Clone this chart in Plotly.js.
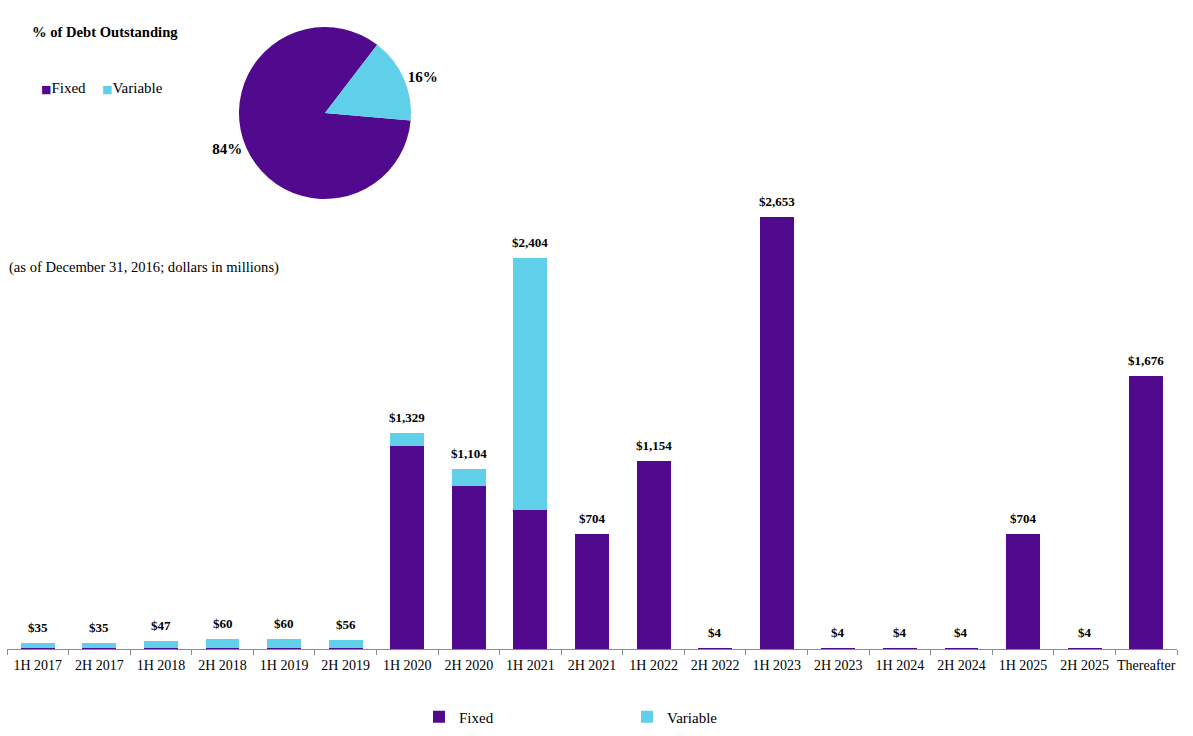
<!DOCTYPE html>
<html>
<head>
<meta charset="utf-8">
<script src="https://cdn.plot.ly/plotly-3.0.1.min.js"></script>
<style>html,body{margin:0;padding:0;background:#fff;}#chart{width:1193px;height:736px;}</style>
</head>
<body>
<div id="chart"></div>
<script>
// ---- data ----
const periods = ['1H 2017','2H 2017','1H 2018','2H 2018','1H 2019','2H 2019','1H 2020','2H 2020','1H 2021','2H 2021','1H 2022','2H 2022','1H 2023','2H 2023','1H 2024','2H 2024','1H 2025','2H 2025','Thereafter'];
const fixedDebt =    [8, 8, 8, 8, 8, 8, 1250, 1000, 854, 704, 1154, 4, 2653, 4, 4, 4, 704, 4, 1676];
const variableDebt = [27, 27, 39, 52, 52, 48, 79, 104, 1550, 0, 0, 0, 0, 0, 0, 0, 0, 0, 0];
const pieLabels = ['Fixed', 'Variable'];
const pieShares = [84, 16];

const PURPLE = '#510A8E';
const CYAN = '#5FCFEA';
const SERIF = '"Liberation Serif", "Times New Roman", serif';

const totals = fixedDebt.map((v, i) => v + variableDebt[i]);

const traces = [
  {type: 'bar', name: 'Fixed', x: periods, y: fixedDebt, marker: {color: PURPLE}, legend: 'legend', hoverinfo: 'x+y+name'},
  {type: 'bar', name: 'Variable', x: periods, y: variableDebt, marker: {color: CYAN}, legend: 'legend', hoverinfo: 'x+y+name'},
  {type: 'pie', labels: pieLabels, values: pieShares, sort: false, direction: 'counterclockwise', rotation: 95,
   marker: {colors: [PURPLE, CYAN]}, textinfo: 'percent', textposition: 'outside',
   texttemplate: '%{percent:.0%}',
   textfont: {family: SERIF, size: 15, color: '#000', weight: 'bold'},
   domain: {x: [0.2003, 0.3445], y: [0.7296, 0.9633]}, legend: 'legend2', automargin: false}
];

const annotations = periods.map((p, i) => ({
  x: p, y: totals[i], xref: 'x', yref: 'y', yanchor: 'bottom', yshift: 6,
  text: '$' + totals[i].toLocaleString('en-US'), showarrow: false,
  font: {family: SERIF, size: 13, color: '#000', weight: 'bold'}
}));
annotations.push({
  xref: 'paper', yref: 'paper', x: 30/1193, y: 1 - 32/736, xanchor: 'left', yanchor: 'middle',
  text: '<b>% of Debt Outstanding</b>', showarrow: false, font: {family: SERIF, size: 14.6, color: '#000'}
});
annotations.push({
  xref: 'paper', yref: 'paper', x: 7/1193, y: 1 - 268/736, xanchor: 'left', yanchor: 'middle',
  text: '(as of December 31, 2016; dollars in millions)', showarrow: false, font: {family: SERIF, size: 14.6, color: '#000'}
});
// pie legend (drawn as text so the swatches sit right against their labels)
const pieLegendX = [39, 100];
pieLabels.forEach((lab, i) => {
  annotations.push({
    xref: 'paper', yref: 'paper', x: pieLegendX[i]/1193, y: 1 - 88/736, xanchor: 'left', yanchor: 'middle',
    text: '<span style="color:' + [PURPLE, CYAN][i] + ';font-family:\'DejaVu Sans\';font-size:11px">■</span>' + lab,
    showarrow: false, font: {family: SERIF, size: 15, color: '#000'}
  });
});

const layout = {
  width: 1193, height: 736,
  margin: {l: 0, r: 0, t: 0, b: 0},
  paper_bgcolor: '#fff', plot_bgcolor: '#fff',
  barmode: 'stack', bargap: 0.45,
  font: {family: SERIF, size: 14, color: '#000'},
  xaxis: {type: 'category', domain: [7/1193, 1177/1193], range: [-0.5, 18.5],
          showline: true, linecolor: '#8c8c8c', linewidth: 1, ticks: 'outside', tickson: 'boundaries',
          ticklen: 5, tickcolor: '#8c8c8c', showgrid: false, zeroline: false, tickangle: 0, ticklabelstandoff: 3,
          tickfont: {family: SERIF, size: 14, color: '#000'}, fixedrange: true},
  yaxis: {domain: [1 - 649/736, 1 - 160.6/736], range: [0, 3000], visible: false, showgrid: false, zeroline: false, fixedrange: true},
  showlegend: true,
  legend: {orientation: 'h', x: 419/1193, y: 1 - 717/736, xanchor: 'left', yanchor: 'middle',
           entrywidth: 163, entrywidthmode: 'pixels', font: {family: SERIF, size: 15, color: '#000'},
           bgcolor: 'rgba(0,0,0,0)', traceorder: 'normal'},
  legend2: {visible: false},
  annotations: annotations
};

Plotly.newPlot('chart', traces, layout, {displayModeBar: false, staticPlot: true});
</script>
</body>
</html>
